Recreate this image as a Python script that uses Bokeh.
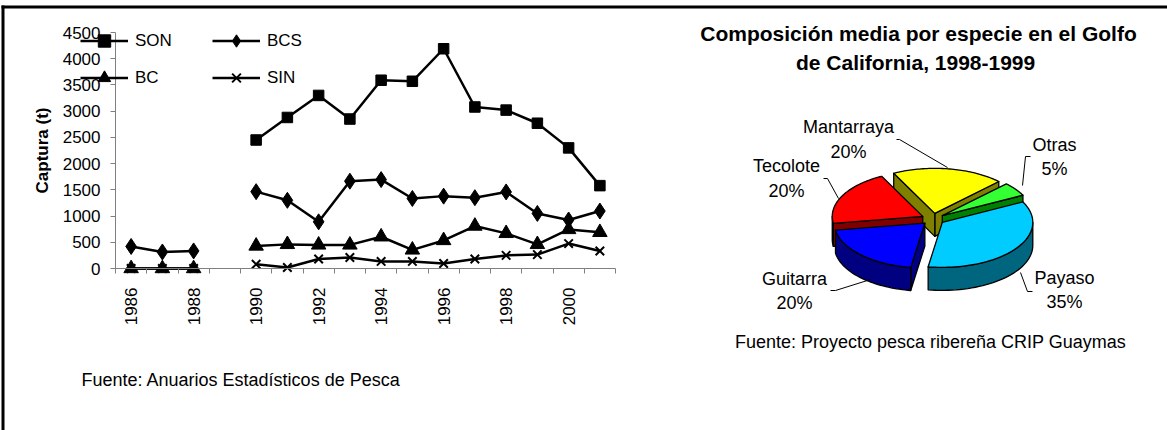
import math
import numpy as np
from bokeh.plotting import figure
from bokeh.models import Range1d, FixedTicker, Legend, LegendItem, LinearAxis, ColumnDataSource
from bokeh.embed import file_html
from bokeh.resources import INLINE
from bokeh.core.properties import value

NaN = float("nan")
FONT = "Liberation Sans"

# ---------------- data: capture by state ----------------
years = [1986, 1987, 1988, 1989, 1990, 1991, 1992, 1993, 1994, 1995, 1996, 1997, 1998, 1999, 2000, 2001]
son = [NaN, NaN, NaN, NaN, 2450, 2880, 3300, 2850, 3590, 3570, 4190, 3080, 3020, 2770, 2300, 1580]
bcs = [420, 315, 335, NaN, 1465, 1300, 890, 1665, 1695, 1335, 1380, 1350, 1460, 1050, 925, 1095]
bc = [0, 0, 0, NaN, 430, 460, 450, 450, 605, 355, 535, 810, 670, 460, 745, 690]
sin_ = [0, 0, 0, NaN, 80, 20, 180, 210, 135, 135, 95, 180, 250, 265, 475, 335]
series_names = ["SON", "BCS", "BC", "SIN"]
y_ticks = [0, 500, 1000, 1500, 2000, 2500, 3000, 3500, 4000, 4500]
x_label_years = [1986, 1988, 1990, 1992, 1994, 1996, 1998, 2000]

# ---------------- data: species composition ----------------
species = ["Payaso", "Guitarra", "Tecolote", "Mantarraya", "Otras"]
shares = [35, 20, 20, 20, 5]
top_colors = ["#00CCFF", "#0000FF", "#FF0000", "#FFFF00", "#33FF33"]
side_colors = ["#006680", "#000080", "#800000", "#808000", "#008000"]

# ---------------- page layout (pixels) ----------------
W, H = 1167, 430
AX_X0, AX_X1 = 115.0, 615.0      # category axis extent
AX_Y_TOP, AX_Y0 = 32.0, 268.0    # value axis: 4500 at top, 0 at bottom
Y_MAX = 4500.0
n_cat = len(years)
PX = (AX_X1 - AX_X0) / n_cat
PU = (AX_Y0 - AX_Y_TOP) / Y_MAX
x_first = years[0] - 0.5

p = figure(width=W, height=H, x_range=Range1d(0, W), y_range=Range1d(H, 0),
           x_axis_type=None, y_axis_type=None, min_border=0,
           output_backend="svg", toolbar_location=None, title=None)
p.xgrid.visible = False
p.ygrid.visible = False
p.outline_line_color = None
p.background_fill_color = "white"
p.border_fill_color = "white"
p.extra_x_ranges = {"yr": Range1d(x_first - AX_X0 / PX, x_first + (W - AX_X0) / PX)}
p.extra_y_ranges = {"val": Range1d(-(H - AX_Y0) / PU, AX_Y0 / PU)}

# page frame rules
p.segment(x0=[1, 2.5], y0=[6.5, 5], x1=[W, 2.5], y1=[6.5, H], line_color="black", line_width=3)

# ================= line chart =================
src = ColumnDataSource(dict(year=years, SON=son, BCS=bcs, BC=bc, SIN=sin_))
lw = 2.5
kw = dict(source=src, x_range_name="yr", y_range_name="val")
r_son_l = p.line("year", "SON", line_color="black", line_width=lw, **kw)
r_son_m = p.scatter("year", "SON", marker="square", size=10.5, color="black", **kw)
r_bcs_l = p.line("year", "BCS", line_color="black", line_width=lw, **kw)
r_bcs_m = p.scatter("year", "BCS", marker="diamond", size=16, color="black", **kw)
r_bc_l = p.line("year", "BC", line_color="black", line_width=lw, **kw)
r_bc_m = p.scatter("year", "BC", marker="triangle", size=14.5, color="black", **kw)
r_sin_l = p.line("year", "SIN", line_color="black", line_width=lw, **kw)
r_sin_m = p.scatter("year", "SIN", marker="x", size=12, line_color="black", line_width=2, **kw)

yax = LinearAxis(y_range_name="val", fixed_location=AX_X0, bounds=(0, Y_MAX),
                 ticker=FixedTicker(ticks=y_ticks))
yax.axis_line_color = "#808080"
yax.major_tick_line_color = "#808080"
yax.major_tick_in = 0
yax.major_tick_out = 5
yax.minor_tick_line_color = None
yax.major_label_standoff = 10
yax.major_label_text_font = FONT
yax.major_label_text_font_size = "17px"
yax.major_label_text_color = "black"
yax.axis_label = "Captura (t)"
yax.axis_label_text_font = FONT
yax.axis_label_text_font_size = "17px"
yax.axis_label_text_font_style = "bold"
yax.axis_label_text_color = "black"
yax.axis_label_standoff = 8
p.add_layout(yax, "left")

xax = LinearAxis(x_range_name="yr", fixed_location=AX_Y0, bounds=(x_first, years[-1] + 0.5),
                 ticker=FixedTicker(ticks=x_label_years,
                                    minor_ticks=[y - 0.5 for y in years] + [years[-1] + 0.5]))
xax.axis_line_color = "#808080"
xax.major_tick_line_color = None
xax.major_tick_in = 0
xax.major_tick_out = 0
xax.minor_tick_line_color = "#808080"
xax.minor_tick_in = 0
xax.minor_tick_out = 5
xax.major_label_orientation = math.pi / 2
xax.major_label_standoff = 14
xax.major_label_text_font = FONT
xax.major_label_text_font_size = "17px"
xax.major_label_text_color = "black"
p.add_layout(xax, "below")

legend = Legend(items=[
    LegendItem(label=series_names[0], renderers=[r_son_l, r_son_m]),
    LegendItem(label=series_names[1], renderers=[r_bcs_l, r_bcs_m]),
    LegendItem(label=series_names[2], renderers=[r_bc_l, r_bc_m]),
    LegendItem(label=series_names[3], renderers=[r_sin_l, r_sin_m]),
], location=(80, H - 93), orientation="horizontal", ncols=2,
    glyph_width=48, glyph_height=31, label_standoff=7, spacing=6, label_width=71,
    padding=0, margin=0, border_line_color=None, background_fill_alpha=0,
    label_text_font=FONT, label_text_font_size="17px", label_text_color="black")
p.add_layout(legend, "center")

p.text(x=[81], y=[379], text=["Fuente: Anuarios Estadísticos de Pesca"], text_font=value(FONT),
       text_font_size=value("18px"), text_align="left", text_baseline="middle", text_color="black")

# ================= 3D exploded pie =================
cx, cy = 932.5, 218.5
R, r = 90.5, 45.0
k = r / R
depth = 23
explode = 11.5
start = 27.0

total = float(sum(shares))
slices = []
a = start
for name, v, tc, sc in zip(species, shares, top_colors, side_colors):
    span = 360.0 * v / total
    slices.append((name, a - span, a, tc, sc))
    a -= span


def pt(theta, ox, oy, dz=0.0):
    t = math.radians(theta)
    return cx + ox + R * math.cos(t), cy + oy - r * math.sin(t) + dz


polys_x, polys_y, fills = [], [], []
order = sorted(slices, key=lambda s: -math.sin(math.radians((s[1] + s[2]) / 2)))
for name, a1, a2, tc, sc in order:
    m = math.radians((a1 + a2) / 2)
    ox, oy = explode * math.cos(m), -explode * k * math.sin(m)
    vx, vy = cx + ox, cy + oy
    walls = []
    if math.cos(math.radians(a1)) > 0:
        walls.append(a1)
    if math.cos(math.radians(a2)) < 0:
        walls.append(a2)
    for w in walls:
        x1, y1 = pt(w, ox, oy)
        x2, y2 = pt(w, ox, oy, depth)
        polys_x.append([vx, x1, x2, vx])
        polys_y.append([vy, y1, y2, vy + depth])
        fills.append(sc)
    for j in range(-3, 3):
        lo, hi = -180 + 360 * j, 0 + 360 * j
        s, e = max(a1, lo), min(a2, hi)
        if e > s:
            th = np.linspace(s, e, 40)
            top = [pt(t, ox, oy) for t in th]
            bot = [pt(t, ox, oy, depth) for t in th[::-1]]
            polys_x.append([c[0] for c in top + bot])
            polys_y.append([c[1] for c in top + bot])
            fills.append(sc)
    th = np.linspace(a1, a2, 60)
    arc = [pt(t, ox, oy) for t in th]
    polys_x.append([vx] + [c[0] for c in arc])
    polys_y.append([vy] + [c[1] for c in arc])
    fills.append(tc)

p.patches(xs=polys_x, ys=polys_y, fill_color=fills, line_color="black", line_width=1.3,
          line_join="round")

label_pos = {
    "Payaso": (1064, 277, 301),
    "Guitarra": (794, 278, 302),
    "Tecolote": (786, 165, 190),
    "Mantarraya": (848, 126, 151),
    "Otras": (1054, 144, 168),
}
leaders = {
    "Payaso": ([1032, 1027, 1020], [291, 291, 272]),
    "Guitarra": ([830, 835, 870], [290, 290, 279]),
    "Tecolote": ([823, 827, 838], [178, 178, 198]),
    "Mantarraya": ([896, 899, 947], [139, 139, 167]),
    "Otras": ([1030, 1025, 1022], [156, 156, 185]),
}
lx, ly, lt = [], [], []
for name, v in zip(species, shares):
    x0, y1, y2 = label_pos[name]
    lx += [x0, x0]
    ly += [y1, y2]
    lt += [name, f"{v}%"]
p.text(x=lx, y=ly, text=lt, text_font=value(FONT), text_font_size=value("18px"),
       text_align="center", text_baseline="middle", text_color="black")
p.multi_line(xs=[leaders[n][0] for n in species], ys=[leaders[n][1] for n in species],
             line_color="black", line_width=1)

title_lines = ["Composición media por especie en el Golfo", "de California,  1998-1999"]
p.text(x=[918, 918], y=[33, 62], text=title_lines, text_font=value(FONT),
       text_font_size=value("21px"), text_font_style="bold", text_align="center",
       text_baseline="middle", text_color="black")
p.text(x=[930], y=[341], text=["Fuente: Proyecto pesca ribereña CRIP Guaymas"],
       text_font=value(FONT), text_font_size=value("18px"), text_align="center",
       text_baseline="middle", text_color="black")

open("out.html", "w").write(file_html(p, INLINE))
